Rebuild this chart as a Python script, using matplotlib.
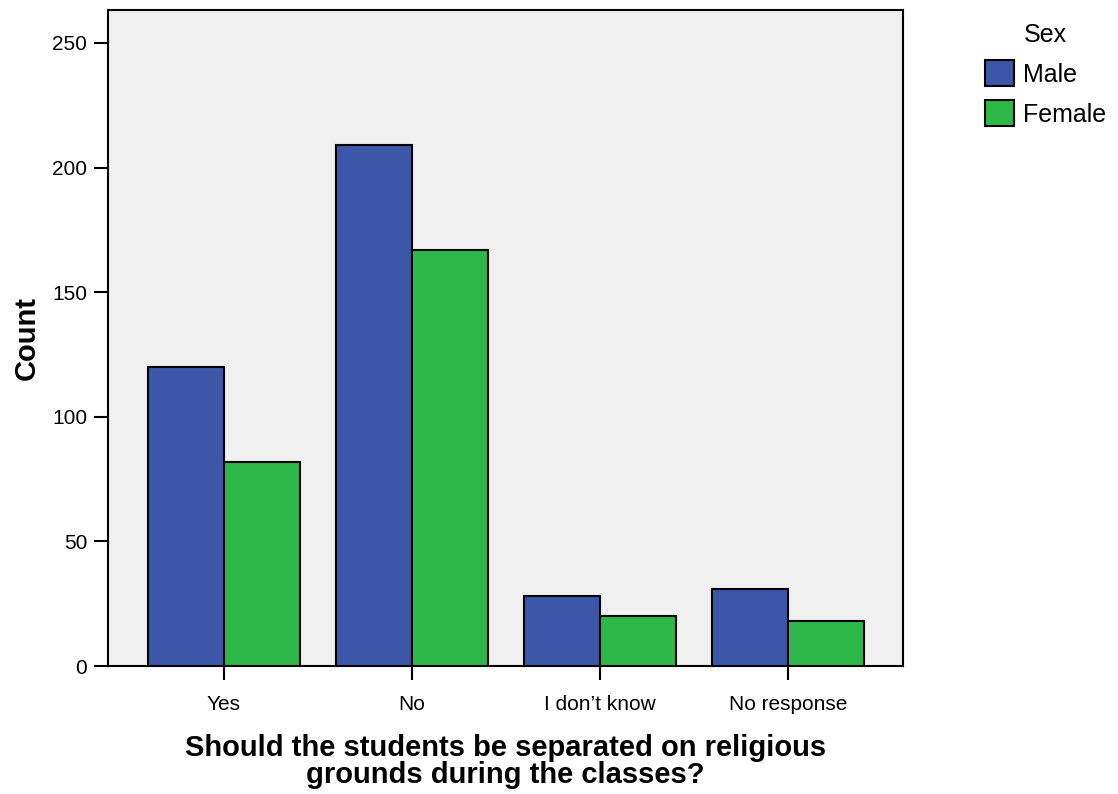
import matplotlib
matplotlib.use("Agg")
import matplotlib.pyplot as plt
import numpy as np
from matplotlib.patches import Patch

plt.rcParams["font.family"] = ["Liberation Sans", "DejaVu Sans"]

categories = ["Yes", "No", "I don\u2019t know", "No response"]
male = [120, 209, 28, 31]
female = [82, 167, 20, 18]
series_names = ["Male", "Female"]
colors = ["#3D57A8", "#2EB84A"]

fig = plt.figure(figsize=(11.18, 7.94), dpi=100)
ax = fig.add_axes([0.0966, 0.1612, 0.7111, 0.8262])
ax.set_facecolor("#F0F0F0")

x = np.arange(len(categories))
w = 0.404
ax.bar(x - w / 2, male, width=w, color=colors[0], edgecolor="black", linewidth=1.5, zorder=3)
ax.bar(x + w / 2, female, width=w, color=colors[1], edgecolor="black", linewidth=1.5, zorder=3)

ax.set_xlim(-0.617, 3.612)
ax.set_ylim(0, 263.2)
ax.set_yticks([0, 50, 100, 150, 200, 250])
ax.set_xticks(x)
ax.set_xticklabels(categories)
ax.tick_params(axis="both", direction="out", length=10, width=1.5, labelsize=15, pad=5)
ax.tick_params(axis="x", pad=11)
for s in ax.spines.values():
    s.set_linewidth(1.5)

ax.set_ylabel("Count", fontsize=21, fontweight="bold", labelpad=8)
ax.set_xlabel("Should the students be separated on religious\ngrounds during the classes?",
              fontsize=21, fontweight="bold", labelpad=14, linespacing=0.95)

handles = [Patch(facecolor=c, edgecolor="black", linewidth=1.5) for c in colors]
leg = fig.legend(handles, series_names, title="Sex", loc="upper left",
                 bbox_to_anchor=(0.8725, 0.984), frameon=False, fontsize=18,
                 title_fontsize=18, handlelength=1.15, handleheight=1.2,
                 handletextpad=0.35, labelspacing=0.55, borderaxespad=0)

fig.savefig("out.png", dpi=100)
